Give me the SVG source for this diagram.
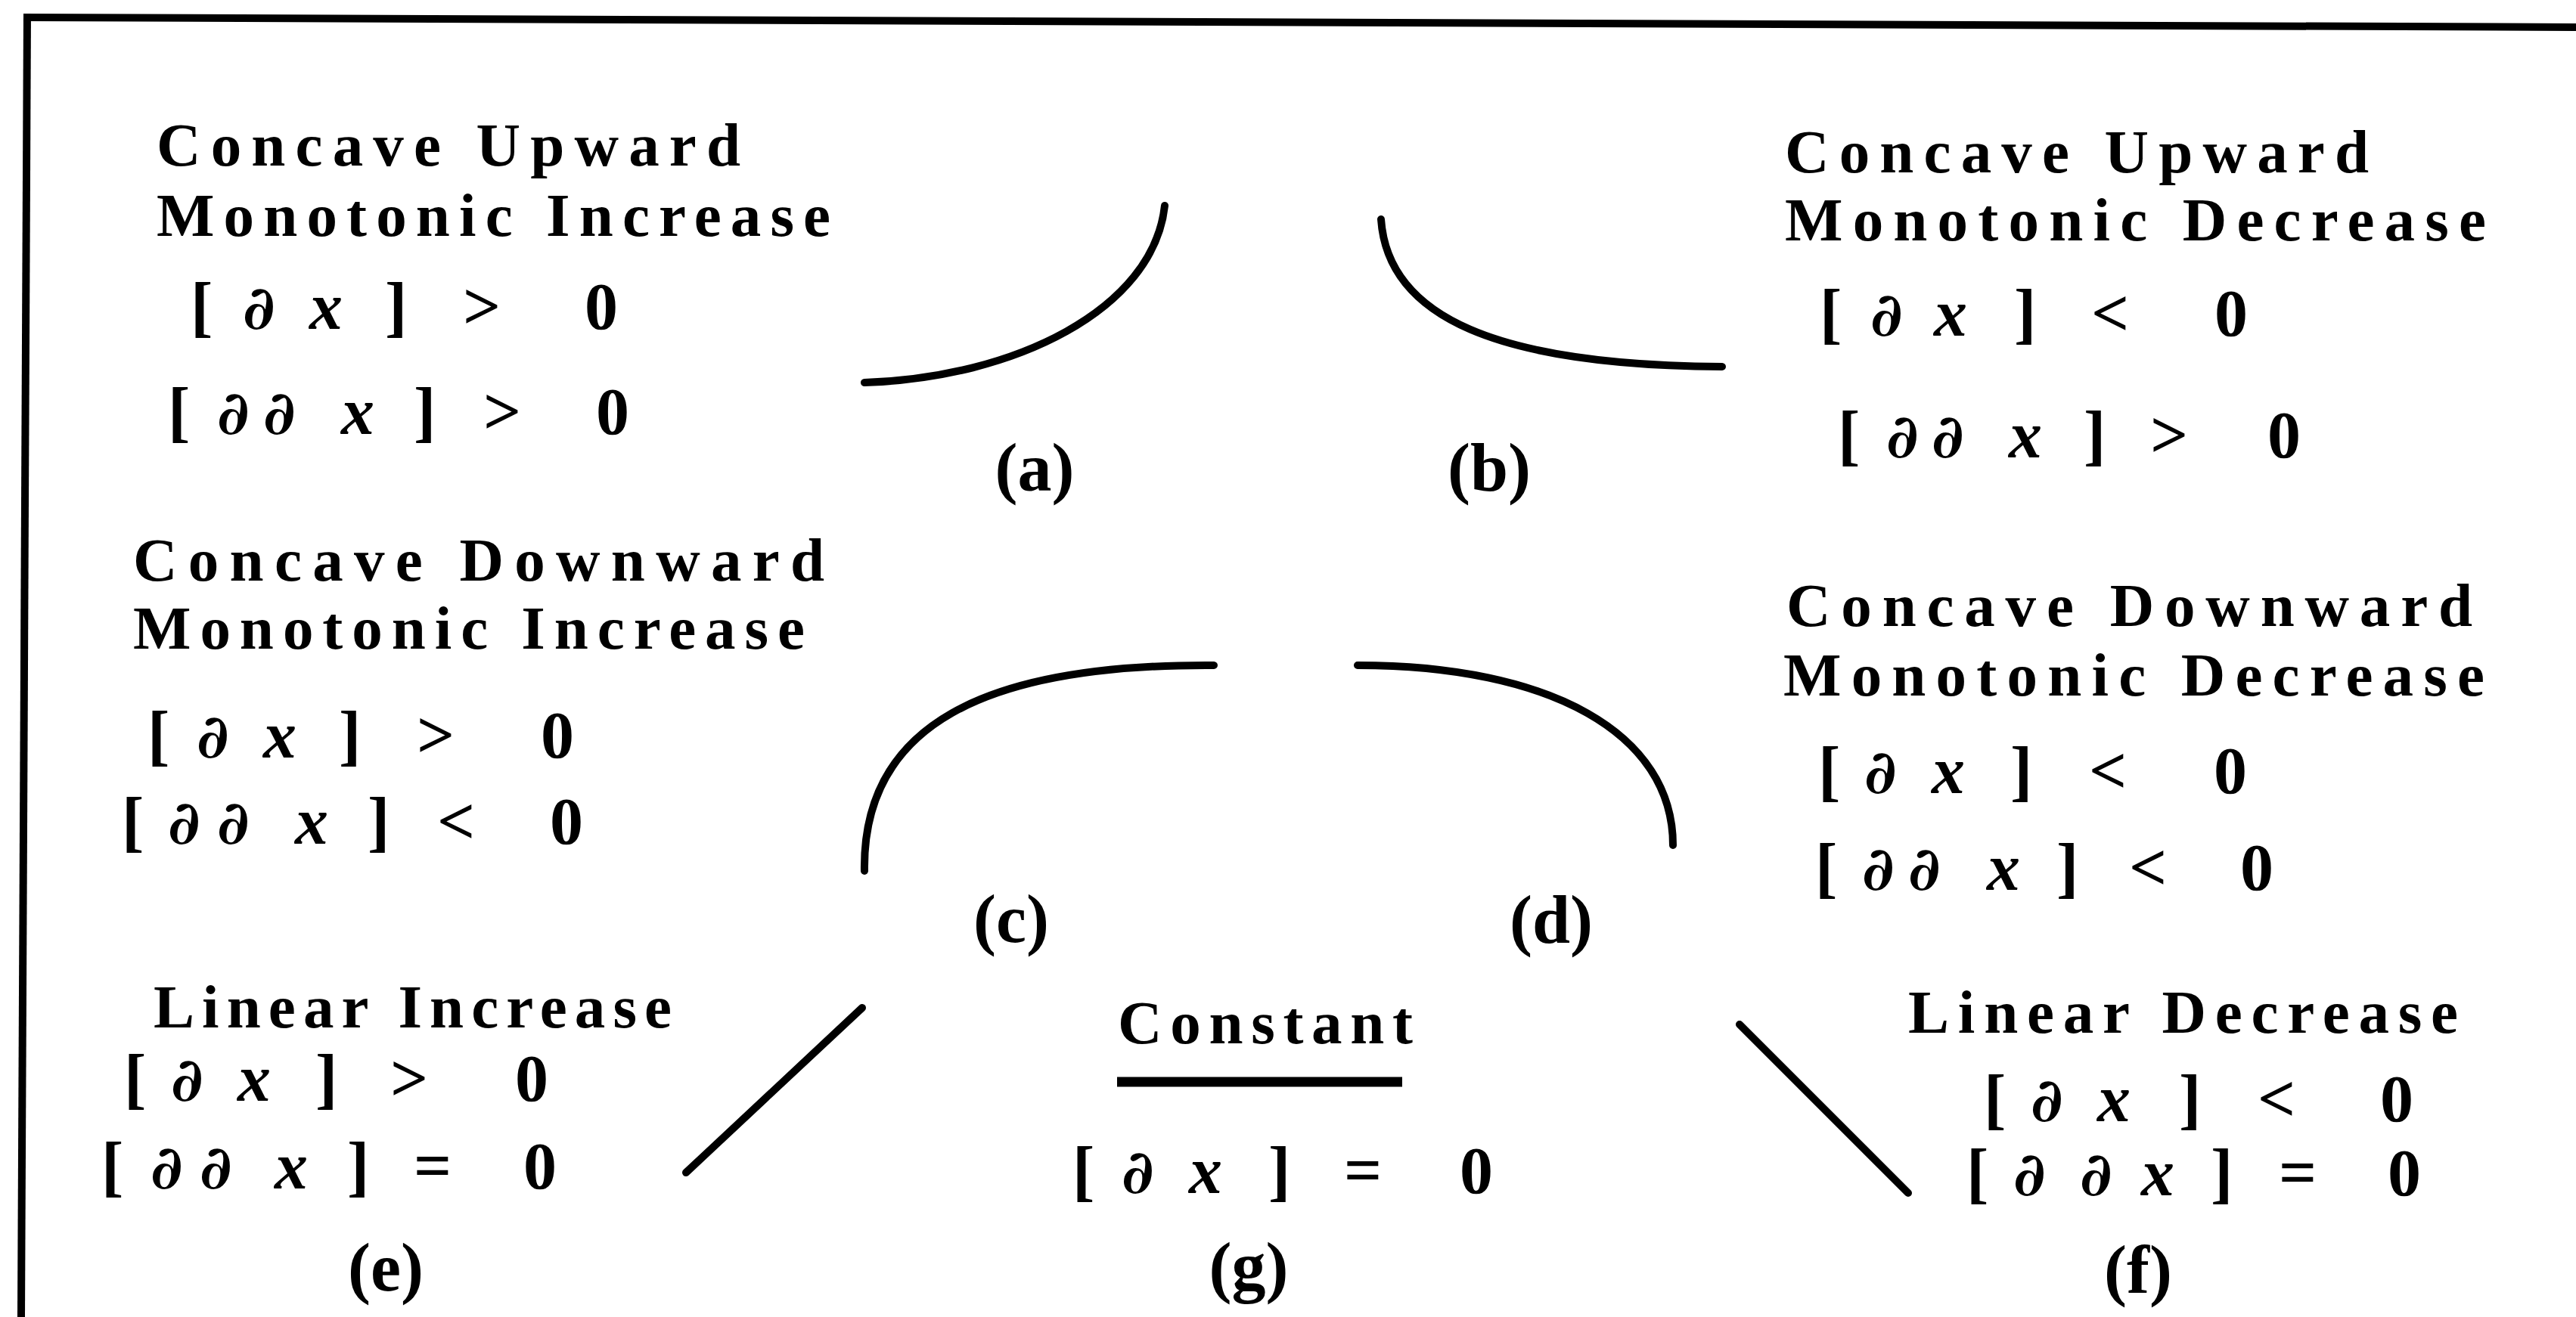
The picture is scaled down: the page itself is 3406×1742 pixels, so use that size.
<svg xmlns="http://www.w3.org/2000/svg" width="3406" height="1742" viewBox="0 0 3406 1742">
<style>
.t{font-family:"Liberation Serif","DejaVu Serif",serif;font-weight:bold;font-size:81px;fill:#000}
.e{font-family:"Liberation Serif","DejaVu Serif",serif;font-weight:bold;font-size:88px;fill:#000}
.l{font-family:"Liberation Serif","DejaVu Serif",serif;font-weight:bold;font-size:90px;fill:#000;text-anchor:middle}
.i{font-style:italic}
.d{font-family:"DejaVu Serif","Liberation Serif",serif;font-style:italic;font-weight:bold;font-size:80px}
.c{fill:none;stroke:#000;stroke-width:10;stroke-linecap:round}
.b{fill:none;stroke:#000;stroke-width:10}
</style>
<rect width="3406" height="1742" fill="#fff"/>
<g id="frame">
<line class="b" x1="31" y1="23" x2="3406" y2="36"/>
<line class="b" x1="36" y1="18" x2="28" y2="1742"/>
</g>
<g id="panel-a">
<text class="t" x="207" y="219" textLength="772" lengthAdjust="spacing">Concave Upward</text>
<text class="t" x="207" y="312" textLength="891" lengthAdjust="spacing">Monotonic Increase</text>
<text class="e" y="435"><tspan x="252">[</tspan><tspan class="d" x="321">∂</tspan><tspan class="i" x="409">x</tspan><tspan x="509">]</tspan><tspan x="612">&gt;</tspan><tspan x="773">0</tspan></text>
<text class="e" y="574"><tspan x="222">[</tspan><tspan class="d" x="287">∂</tspan><tspan class="d" x="348">∂</tspan><tspan class="i" x="451">x</tspan><tspan x="547">]</tspan><tspan x="639">&gt;</tspan><tspan x="788">0</tspan></text>
<path class="c" d="M1143,506 C1340,500 1525,410 1540,272"/>
<text class="l" x="1368" y="649">(a)</text>
</g>
<g id="panel-b">
<text class="t" x="2360" y="228" textLength="772" lengthAdjust="spacing">Concave Upward</text>
<text class="t" x="2360" y="318" textLength="927" lengthAdjust="spacing">Monotonic Decrease</text>
<text class="e" y="444"><tspan x="2406">[</tspan><tspan class="d" x="2473">∂</tspan><tspan class="i" x="2557">x</tspan><tspan x="2663">]</tspan><tspan x="2765">&lt;</tspan><tspan x="2928">0</tspan></text>
<text class="e" y="605"><tspan x="2430">[</tspan><tspan class="d" x="2494">∂</tspan><tspan class="d" x="2554">∂</tspan><tspan class="i" x="2656">x</tspan><tspan x="2755">]</tspan><tspan x="2843">&gt;</tspan><tspan x="2998">0</tspan></text>
<path class="c" d="M1826,290 C1835,420 1980,483 2277,485"/>
<text class="l" x="1969" y="649">(b)</text>
</g>
<g id="panel-c">
<text class="t" x="176" y="768" textLength="914" lengthAdjust="spacing">Concave Downward</text>
<text class="t" x="176" y="858" textLength="888" lengthAdjust="spacing">Monotonic Increase</text>
<text class="e" y="1002"><tspan x="195">[</tspan><tspan class="d" x="260">∂</tspan><tspan class="i" x="348">x</tspan><tspan x="448">]</tspan><tspan x="551">&gt;</tspan><tspan x="715">0</tspan></text>
<text class="e" y="1116"><tspan x="161">[</tspan><tspan class="d" x="222">∂</tspan><tspan class="d" x="287">∂</tspan><tspan class="i" x="390">x</tspan><tspan x="486">]</tspan><tspan x="578">&lt;</tspan><tspan x="727">0</tspan></text>
<path class="c" d="M1143,1152 C1140,960 1300,878 1605,880"/>
<text class="l" x="1337" y="1246">(c)</text>
</g>
<g id="panel-d">
<text class="t" x="2362" y="828" textLength="907" lengthAdjust="spacing">Concave Downward</text>
<text class="t" x="2358" y="920" textLength="927" lengthAdjust="spacing">Monotonic Decrease</text>
<text class="e" y="1049"><tspan x="2404">[</tspan><tspan class="d" x="2465">∂</tspan><tspan class="i" x="2554">x</tspan><tspan x="2658">]</tspan><tspan x="2762">&lt;</tspan><tspan x="2927">0</tspan></text>
<text class="e" y="1177"><tspan x="2400">[</tspan><tspan class="d" x="2462">∂</tspan><tspan class="d" x="2523">∂</tspan><tspan class="i" x="2627">x</tspan><tspan x="2719">]</tspan><tspan x="2815">&lt;</tspan><tspan x="2962">0</tspan></text>
<path class="c" d="M1795,880 C2050,880 2212,970 2212,1118"/>
<text class="l" x="2051" y="1247">(d)</text>
</g>
<g id="panel-e">
<text class="t" x="203" y="1359" textLength="685" lengthAdjust="spacing">Linear Increase</text>
<text class="e" y="1456"><tspan x="164">[</tspan><tspan class="d" x="226">∂</tspan><tspan class="i" x="314">x</tspan><tspan x="417">]</tspan><tspan x="516">&gt;</tspan><tspan x="681">0</tspan></text>
<text class="e" y="1572"><tspan x="134">[</tspan><tspan class="d" x="199">∂</tspan><tspan class="d" x="264">∂</tspan><tspan class="i" x="363">x</tspan><tspan x="459">]</tspan><tspan x="547">=</tspan><tspan x="692">0</tspan></text>
<line class="c" x1="907" y1="1551" x2="1140" y2="1333"/>
<text class="l" x="510" y="1707">(e)</text>
</g>
<g id="panel-g">
<text class="t" x="1478" y="1380" textLength="390" lengthAdjust="spacing">Constant</text>
<line x1="1477" y1="1431" x2="1854" y2="1431" stroke="#000" stroke-width="13"/>
<text class="e" y="1578"><tspan x="1418">[</tspan><tspan class="d" x="1483">∂</tspan><tspan class="i" x="1572">x</tspan><tspan x="1677">]</tspan><tspan x="1777">=</tspan><tspan x="1930">0</tspan></text>
<text class="l" x="1651" y="1706">(g)</text>
</g>
<g id="panel-f">
<text class="t" x="2523" y="1366" textLength="727" lengthAdjust="spacing">Linear Decrease</text>
<text class="e" y="1483"><tspan x="2623">[</tspan><tspan class="d" x="2685">∂</tspan><tspan class="i" x="2773">x</tspan><tspan x="2881">]</tspan><tspan x="2985">&lt;</tspan><tspan x="3147">0</tspan></text>
<text class="e" y="1581"><tspan x="2600">[</tspan><tspan class="d" x="2662">∂</tspan><tspan class="d" x="2750">∂</tspan><tspan class="i" x="2831">x</tspan><tspan x="2923">]</tspan><tspan x="3013">=</tspan><tspan x="3157">0</tspan></text>
<line class="c" x1="2300" y1="1355" x2="2523" y2="1578"/>
<text class="l" x="2827" y="1710">(f)</text>
</g>
</svg>
